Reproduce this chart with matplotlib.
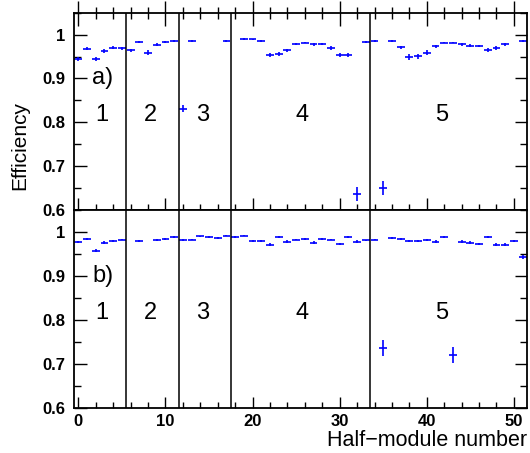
import numpy as np
import matplotlib
matplotlib.use('Agg')
import matplotlib.pyplot as plt
from matplotlib.ticker import MultipleLocator, FuncFormatter

plt.rcParams['font.family'] = ['Liberation Sans', 'DejaVu Sans']

# panel a) efficiency per half-module
x_a = [0, 1, 2, 3, 4, 5, 6, 7, 8, 9, 10, 11, 12, 13, 17, 19, 20, 21, 22, 23, 24, 25,
       26, 27, 28, 29, 30, 31, 32, 33, 34, 35, 36, 37, 38, 39, 40, 41, 42, 43, 44,
       45, 46, 47, 48, 49, 51]
eff_a = [0.945, 0.968, 0.945, 0.963, 0.970, 0.969, 0.964, 0.984, 0.959, 0.977, 0.983,
         0.986, 0.831, 0.986, 0.985, 0.990, 0.989, 0.986, 0.954, 0.956, 0.964, 0.979,
         0.982, 0.978, 0.979, 0.969, 0.953, 0.953, 0.636, 0.983, 0.985, 0.651, 0.986,
         0.971, 0.949, 0.951, 0.959, 0.973, 0.982, 0.982, 0.978, 0.975, 0.974, 0.965,
         0.969, 0.978, 0.986]
err_a = [0.005, 0.003, 0.005, 0.004, 0.003, 0.003, 0.004, 0.002, 0.005, 0.003, 0.002,
         0.002, 0.008, 0.002, 0.002, 0.002, 0.002, 0.002, 0.005, 0.005, 0.004, 0.003,
         0.002, 0.003, 0.003, 0.004, 0.005, 0.005, 0.016, 0.002, 0.002, 0.016, 0.002,
         0.004, 0.006, 0.006, 0.005, 0.003, 0.002, 0.002, 0.003, 0.003, 0.003, 0.004,
         0.004, 0.003, 0.002]

# panel b)
x_b = [0, 1, 2, 3, 4, 5, 7, 9, 10, 11, 12, 13, 14, 15, 16, 17, 18, 19, 20, 21, 22,
       23, 24, 25, 26, 27, 28, 29, 30, 31, 32, 33, 34, 35, 36, 37, 38, 39, 40, 41,
       42, 43, 44, 45, 46, 47, 48, 49, 50, 51]
eff_b = [0.977, 0.984, 0.958, 0.976, 0.980, 0.983, 0.980, 0.982, 0.984, 0.988, 0.982,
         0.983, 0.990, 0.989, 0.986, 0.992, 0.988, 0.992, 0.980, 0.980, 0.971, 0.988,
         0.978, 0.983, 0.984, 0.976, 0.985, 0.983, 0.973, 0.989, 0.978, 0.981, 0.983,
         0.736, 0.987, 0.984, 0.980, 0.980, 0.982, 0.978, 0.989, 0.721, 0.978, 0.976,
         0.973, 0.989, 0.971, 0.971, 0.980, 0.944]
err_b = [0.002, 0.002, 0.004, 0.003, 0.002, 0.002, 0.002, 0.002, 0.002, 0.002, 0.002,
         0.002, 0.002, 0.002, 0.002, 0.002, 0.002, 0.002, 0.002, 0.002, 0.003, 0.002,
         0.003, 0.002, 0.002, 0.003, 0.002, 0.002, 0.003, 0.002, 0.003, 0.002, 0.002,
         0.018, 0.002, 0.002, 0.002, 0.002, 0.002, 0.003, 0.002, 0.018, 0.003, 0.003,
         0.003, 0.002, 0.003, 0.003, 0.002, 0.005]

boundaries = [5.5, 11.5, 17.5, 33.5]
station_labels = ['1', '2', '3', '4', '5']
station_x = [2.7, 8.3, 14.3, 25.7, 41.7]

fig = plt.figure(figsize=(5.3, 4.53), dpi=100)
ax1 = fig.add_axes([0.1396, 0.5364, 0.8547, 0.4355])
ax2 = fig.add_axes([0.1396, 0.0987, 0.8547, 0.4377])

fmt = FuncFormatter(lambda v, p: '%g' % round(v, 2))

for ax, xs, ys, es, tag in [(ax1, x_a, eff_a, err_a, 'a)'), (ax2, x_b, eff_b, err_b, 'b)')]:
    ax.set_xlim(-0.5, 51.5)
    ax.set_ylim(0.6, 1.05)
    ax.errorbar(xs, ys, xerr=0.45, yerr=es, fmt='none', ecolor='#0000ff', elinewidth=1.2, capsize=0)
    for b in boundaries:
        ax.axvline(b, color='black', lw=1.1)
    for lab, sx in zip(station_labels, station_x):
        ax.text(sx, 0.816, lab, fontsize=17, ha='center', va='center')
    ax.text(2.8, 0.9, tag, fontsize=17, ha='center', va='center')
    ax.xaxis.set_major_locator(MultipleLocator(10))
    ax.xaxis.set_minor_locator(MultipleLocator(2))
    ax.yaxis.set_major_locator(MultipleLocator(0.1))
    ax.yaxis.set_minor_locator(MultipleLocator(0.05))
    ax.yaxis.set_major_formatter(fmt)
    ax.tick_params(axis='y', which='both', direction='in', left=True, right=True, labelsize=12, pad=6)
    ax.tick_params(axis='y', which='major', length=9, width=1)
    ax.tick_params(axis='y', which='minor', length=5, width=1)
    for t in ax.get_yticklabels():
        t.set_fontweight('bold')
    for s in ax.spines.values():
        s.set_linewidth(1.3)

ax1.tick_params(axis='x', which='both', top=True, bottom=True, direction='inout', labelbottom=False, width=1)
ax1.tick_params(axis='x', which='major', length=18)
ax1.tick_params(axis='x', which='minor', length=9)

ax2.tick_params(axis='x', which='both', direction='in', top=False, bottom=True, labelsize=12, width=1, pad=4)
ax2.tick_params(axis='x', which='major', length=8)
ax2.tick_params(axis='x', which='minor', length=4)
for t in ax2.get_xticklabels():
    t.set_fontweight('bold')

fig.text(20/530, 1 - 145/453, 'Efficiency', rotation=90, fontsize=15, ha='center', va='center')
fig.text(527/530, 1 - 441/453, 'Half\u2212module number', fontsize=15.5, ha='right', va='center')

fig.savefig('out.png', dpi=100)
